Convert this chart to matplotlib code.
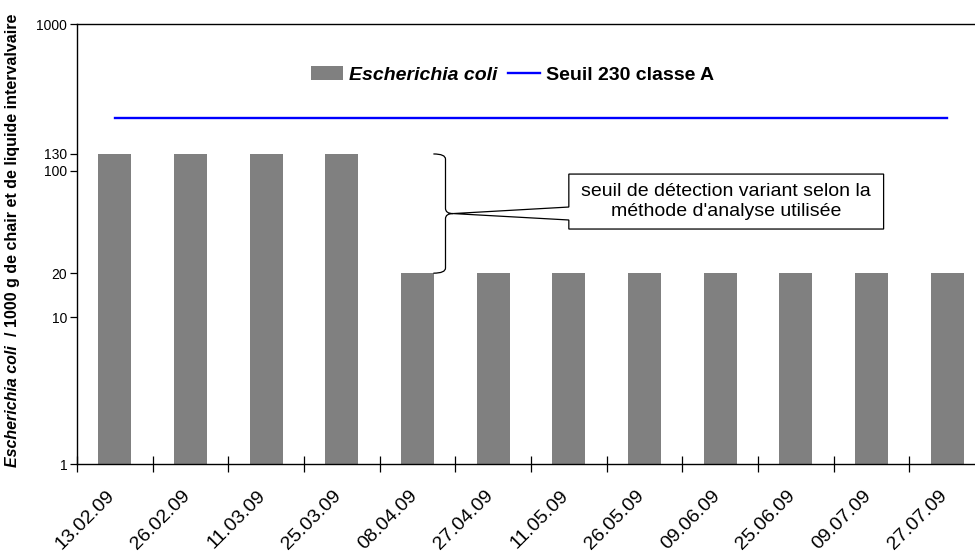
import matplotlib
matplotlib.use("Agg")
import matplotlib.pyplot as plt
import matplotlib.transforms as mtransforms
from matplotlib.patches import Patch, Polygon
from matplotlib.lines import Line2D
from matplotlib.path import Path
from matplotlib.patches import PathPatch
import numpy as np

plt.rcParams['font.family'] = ['Liberation Sans', 'DejaVu Sans']

dates = ["13.02.09", "26.02.09", "11.03.09", "25.03.09", "08.04.09", "27.04.09",
         "11.05.09", "26.05.09", "09.06.09", "25.06.09", "09.07.09", "27.07.09"]
ecoli = [130, 130, 130, 130, 20, 20, 20, 20, 20, 20, 20, 20]
seuil = [230] * len(dates)
ytick_vals = [1, 10, 20, 100, 130, 1000]
ytick_labels = ["1", "10", "20", "100", "130", "1000"]
legend_labels = ["Escherichia coli", "Seuil 230 classe A"]
note = "seuil de détection variant selon la\nméthode d'analyse utilisée"

W, H = 975, 551
fig = plt.figure(figsize=(W / 100, H / 100), dpi=100)
ax_l, ax_r, ax_t, ax_b = 77, 985, 24, 464
ax = fig.add_axes([ax_l / W, (H - ax_b) / H, (ax_r - ax_l) / W, (ax_b - ax_t) / H])

x = np.arange(len(dates))
ax.bar(x, ecoli, width=0.44, color='#808080', zorder=2)
ax.plot(x, seuil, color='#0000FF', lw=1.7, zorder=3)

ax.set_yscale('log')
ax.set_ylim(1, 1000)
ax.set_xlim(-0.5, len(dates) - 0.5)
ax.set_yticks(ytick_vals)
ax.set_yticklabels(ytick_labels, fontsize=10)
ax.yaxis.set_minor_locator(matplotlib.ticker.NullLocator())
ax.tick_params(axis='y', which='major', direction='out', length=5, width=0.9, pad=2)

ax.set_xticks(np.arange(len(dates) + 1) - 0.5)
ax.set_xticklabels([])
ax.tick_params(axis='x', which='major', direction='inout', length=12, width=0.9)
ax.set_xticks(x, minor=True)
ax.set_xticklabels(dates, minor=True, fontsize=14, rotation=45, ha='right',
                   va='center', rotation_mode='anchor')
ax.tick_params(axis='x', which='minor', length=0, pad=21)
shift = mtransforms.ScaledTranslation(-3 / 100, 0, fig.dpi_scale_trans)
for lab in ax.get_xticklabels(minor=True):
    lab.set_transform(lab.get_transform() + shift)

for s in ['left', 'bottom', 'top']:
    ax.spines[s].set_linewidth(1.0)
    ax.spines[s].set_color('black')
ax.spines['right'].set_visible(False)

# legend
handles = [Patch(facecolor='#808080', edgecolor='none'),
           Line2D([0], [0], color='#0000FF', lw=1.7)]
leg = ax.legend(handles, legend_labels, loc='center', bbox_to_anchor=(0.480, 0.884),
                ncol=2, frameon=False, handlelength=1.65, handleheight=0.72,
                handletextpad=0.3, columnspacing=0.55, borderpad=0,
                prop={'size': 14, 'weight': 'bold'})
leg.get_texts()[0].set_style('italic')

# brace (spanning 130 -> 20)
ytop, ybot = 130, 20
ymid = np.sqrt(ytop * ybot)
xb0, xb1, xtip = 4.21, 4.37, 4.47
lt, lb, lm = np.log10(ytop), np.log10(ybot), np.log10(ymid)
def Y(v):
    return 10 ** v
d = 0.035
verts = [(xb0, Y(lt)), (xb1, Y(lt)), (xb1, Y(lt - d)),
         (xb1, Y(lm + d)), (xb1, Y(lm)), (xtip, Y(lm)),
         (xb1, Y(lm)), (xb1, Y(lm - d)),
         (xb1, Y(lb + d)), (xb1, Y(lb)), (xb0, Y(lb))]
codes = [Path.MOVETO, Path.CURVE3, Path.CURVE3,
         Path.LINETO, Path.CURVE3, Path.CURVE3,
         Path.CURVE3, Path.CURVE3,
         Path.LINETO, Path.CURVE3, Path.CURVE3]
ax.add_patch(PathPatch(Path(verts, codes), fill=False, lw=0.9, ec='black', zorder=4))

# callout box
bx0, bx1 = 6.0, 10.16
by_top, by_bot = 94.8, 40.0
cy1, cy2 = 56.5, 46.1
callout = Polygon([(bx0, by_top), (bx1, by_top), (bx1, by_bot), (bx0, by_bot),
                   (bx0, cy2), (xtip, ymid), (bx0, cy1)], closed=True,
                  facecolor='white', edgecolor='black', lw=0.9, zorder=5)
ax.add_patch(callout)
ax.text((bx0 + bx1) / 2, np.sqrt(by_top * by_bot), note, ha='center', va='center',
        fontsize=14, linespacing=1.3, zorder=6)

# y label in two styles
fig.canvas.draw()
r = fig.canvas.get_renderer()
t1 = fig.text(0.0125, (H - 467) / H, "Escherichia coli", rotation=90, ha='center',
              va='bottom', fontsize=11.5, fontweight='bold', style='italic')
fig.canvas.draw()
bb = t1.get_window_extent(r)
y_top = bb.y1 / fig.dpi / fig.get_size_inches()[1]
fig.text(0.0125, y_top, "  / 1000 g de chair et de liquide intervalvaire", rotation=90,
         ha='center', va='bottom', fontsize=11.5, fontweight='bold')

fig.savefig("out.png", dpi=100)
